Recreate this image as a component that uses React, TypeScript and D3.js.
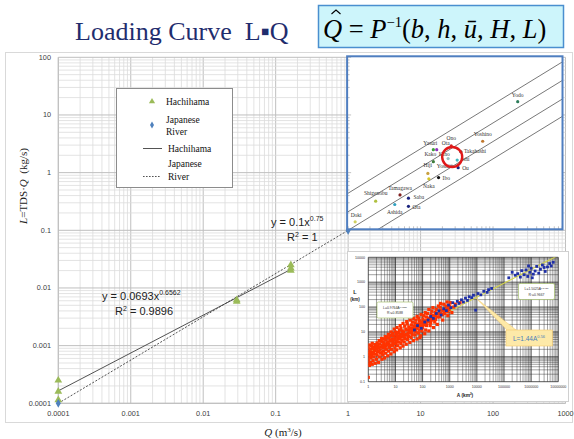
import * as d3 from 'd3';

// ---- main chart (L vs Q) ----
const xTickValues = [0.0001, 0.001, 0.01, 0.1, 1, 10, 100, 1000];
const xTickLabels = ['0.0001', '0.001', '0.01', '0.1', '1', '10', '100', '1000'];
const yTickValues = [0.0001, 0.001, 0.01, 0.1, 1, 10, 100];
const yTickLabels = ['0.0001', '0.001', '0.01', '0.1', '1', '10', '100'];

const hachihamaQ = [0.0001, 0.0001, 0.0001, 0.029, 0.029, 0.162, 0.162, 0.162];
const hachihamaL = [0.00025, 0.00016, 0.000114, 0.0062, 0.0058, 0.025, 0.022, 0.02];
const japanQ = [0.0001, 1];
const japanL = [0.0001, 0.1];

const hachihamaFit = { a: 0.0693, b: 0.6562, from: 0.0001, to: 0.162 };
const japanFit = { a: 0.1, b: 0.75, from: 0.0001, to: 1 };

// ---- upper inset: Japanese rivers ----
const riverNames = ['Yodo', 'Yoshino', 'Ono', 'Yasuri', 'Ota', 'Kako', 'Takahashi', 'Ishi', 'Kino', 'Ou', 'Yoshii', 'Ibo', 'Hiji', 'Naka', 'Tamagawa', 'Saba', 'Ashida', 'Ota', 'Shigenobu', 'Doki'];
const riverQ = [219, 72, 26.5, 15, 16.7, 15, 36, 32, 24, 33, 27, 17.7, 12.6, 13, 5.2, 6.8, 4.4, 6.8, 2.4, 1.25];
const riverL = [17, 3.5, 2.9, 2.5, 2.5, 1.55, 2.3, 1.65, 1.75, 1.22, 1.3, 0.82, 0.97, 0.78, 0.41, 0.36, 0.28, 0.26, 0.32, 0.14];
const riverColors = ['#2e7d5b', '#c0782e', '#d42020', '#3aa03a', '#9030c0', '#3d7d3d', '#3a3a3a', '#40b8c0', '#9ac0c0', '#1a237e', '#888', '#111', '#c8a040', '#d4c428', '#802020', '#1a237e', '#30a0c0', '#1a237e', '#b0c040', '#d0d060'];
const labelDx = [0, 0, 0, -3, 5, -3, 3, 4, -4, 4, -8, 4, 0, 0, 0, 5, 0, 4, 0, 1];
const labelDy = [-5, -5, -6, -5, -5, -6, 1, 1, -3, 2, 2, 2, -6, 9, -5, 1, 9, 3, -6, -5];
const labelAnchor = ['middle', 'middle', 'middle', 'middle', 'start', 'middle', 'start', 'start', 'middle', 'start', 'middle', 'start', 'middle', 'middle', 'middle', 'start', 'middle', 'start', 'middle', 'middle'];
const insetLineCoef = [0.44, 0.21, 0.1, 0.05];
const insetLineExp = 0.77;
const highlightQ = 27.3;
const highlightL = 1.87;

// ---- lower inset: L vs A ----
const aTickValues = [1, 10, 100, 1000, 10000, 100000, 1000000, 10000000];
const aTickLabels = ['1', '10', '100', '1000', '10000', '100000', '1000000', '10000000'];
const lenTickValues = [0.1, 1, 10, 100, 1000, 10000];
const lenTickLabels = ['0.1', '1', '10', '100', '1000', '10000'];
const lengthFit = { a: 1.44, b: 0.56 };

const redPoints: [number, number][] = [
  [1.0, 0.15], [1.0, 0.55], [1.0, 0.75], [1.05, 1.0], [1.0, 1.3], [1.05, 1.7], [1.0, 2.3],
  [1.2, 0.6], [1.25, 0.9], [1.2, 1.15], [1.3, 1.5], [1.25, 2.0], [1.3, 2.7],
  [1.5, 0.7], [1.6, 1.0], [1.55, 1.35], [1.7, 1.8], [1.6, 2.4], [1.75, 3.1],
  [2.0, 0.8], [2.1, 1.2], [2.2, 1.6], [2.0, 2.1], [2.3, 2.8], [2.1, 3.6],
  [2.6, 1.0], [2.8, 1.4], [2.7, 1.9], [2.9, 2.5], [2.6, 3.3], [3.0, 4.3],
  [3.4, 1.2], [3.6, 1.7], [3.5, 2.3], [3.8, 3.0], [3.4, 4.0], [3.9, 5.2],
  [4.3, 1.4], [4.6, 2.0], [4.5, 2.7], [4.8, 3.6], [4.4, 4.8], [5.0, 6.0],
  [5.6, 1.7], [6.0, 2.4], [5.8, 3.2], [6.3, 4.3], [5.9, 5.6], [6.5, 7.2],
  [7.2, 2.0], [7.8, 2.9], [8.0, 3.8], [7.5, 5.0], [8.4, 6.8], [7.9, 8.8],
  [9.5, 2.3], [10, 3.3], [10.5, 4.4], [9.8, 5.8], [10.8, 7.8], [10.2, 10],
  [12, 2.8], [13, 3.9], [12.5, 5.2], [13.5, 7.0], [12.8, 9.5], [14, 12],
  [16, 3.4], [17, 4.6], [16.5, 6.2], [18, 8.3], [17.5, 11], [16, 14],
  [21, 4.0], [22, 5.5], [23, 7.3], [20, 9.8], [24, 13], [22, 17],
  [28, 5.0], [30, 6.6], [29, 8.8], [32, 12], [31, 16], [27, 21],
  [38, 6.0], [41, 8.0], [40, 10.5], [43, 14], [39, 19], [42, 25],
  [52, 7.5], [56, 10], [54, 13], [58, 17], [53, 23], [57, 30],
  [70, 9], [75, 12], [80, 6], [78, 16], [73, 21], [77, 28], [72, 36],
  [95, 11], [100, 15], [105, 19], [98, 25], [103, 33], [110, 45],
  [130, 12], [140, 18], [135, 23], [145, 30], [138, 40], [150, 55],
  [190, 18], [200, 24], [210, 30], [195, 38], [205, 50], [220, 68],
  [280, 25], [300, 32], [310, 45], [290, 60], [320, 80],
  [420, 40], [450, 55], [470, 75], [440, 100], [460, 140],
  [650, 55], [700, 80], [720, 110],
  [950, 80], [1000, 110], [1050, 150],
  [1400, 100], [1600, 130],
  [2400, 150],
  [1.1, 0.45], [1.4, 0.5], [1.8, 0.55], [1.1, 3.0], [1.4, 3.5], [2.4, 0.6], [2.5, 4.5], [3.2, 0.8],
  [3.1, 5.5], [4.0, 0.9], [4.2, 6.5], [5.2, 1.1], [5.5, 8], [6.8, 1.3], [7.0, 10], [9, 1.6], [9, 13],
  [11, 1.9], [11.5, 15], [15, 2.3], [15, 18], [19, 2.7], [19, 22], [25, 3.2], [26, 26], [34, 3.8],
  [35, 30], [46, 4.5], [47, 35], [62, 5.2], [63, 42], [85, 7], [88, 50], [120, 8.5], [125, 60],
  [170, 11], [170, 80], [250, 15], [240, 95], [350, 20], [380, 110], [550, 30], [600, 130], [850, 45],
  [1200, 60], [800, 160],
  [1.15, 1.4], [1.35, 1.1], [1.45, 2.2], [1.9, 1.3], [1.95, 2.6], [2.4, 1.7], [2.45, 2.3], [3.2, 1.5],
  [3.3, 2.8], [3.7, 3.6], [4.1, 2.4], [4.9, 3.1], [5.3, 4.0], [6.6, 2.9], [7.0, 4.5], [8.7, 3.4],
  [9.2, 4.9], [11.5, 4.0], [12, 6.3], [14.5, 5.5], [15, 8], [19, 7], [19.5, 10], [25, 8], [26, 12],
  [34, 9.5], [35, 14], [45, 12], [48, 17], [62, 14], [65, 20], [85, 17], [88, 23], [118, 20],
  [122, 28], [165, 25], [170, 35], [240, 32], [250, 45], [350, 40], [380, 55], [550, 50], [580, 70],
  [850, 65], [900, 95],
];

const bluePoints: [number, number][] = [
  [50, 12], [65, 18], [90, 14], [120, 25], [160, 30], [200, 42], [250, 35], [320, 55], [400, 70], [480, 48],
  [600, 85], [750, 72], [900, 120], [1100, 95], [1300, 150], [1600, 115], [1900, 170], [2200, 140], [2700, 195],
  [3200, 160], [3800, 230], [4500, 185], [5200, 260], [6500, 240], [7500, 300], [9000, 75], [11000, 350],
  [14000, 310], [18000, 430], [24000, 390], [27000, 500], [35000, 560],
  [150000, 1500], [200000, 2500], [260000, 1900], [320000, 2200], [400000, 1600], [450000, 2900],
  [550000, 2000], [650000, 3100], [750000, 1700], [800000, 4500], [900000, 2500], [1000000, 3600],
  [1100000, 1500], [1200000, 2100], [1400000, 2800], [1600000, 4300], [1900000, 2300], [2200000, 3300],
  [2600000, 4900], [3000000, 3900], [3300000, 2700], [4000000, 4100], [4800000, 5600], [5500000, 4500],
  [6500000, 6300],
];

const SANS = '"Liberation Sans", Arial, sans-serif';
const SERIF = '"Liberation Serif", "Times New Roman", serif';

const isDecade = (v: number) => Math.abs(Math.log10(v) - Math.round(Math.log10(v))) < 1e-6;

export default function App() {
  // main scales
  const x = d3.scaleLog().domain([1e-4, 1e3]).range([58.3, 565.5]);
  const y = d3.scaleLog().domain([1e-4, 1e2]).range([403.3, 57.3]);
  const [x0, x1] = x.range();
  const [y0, y1] = y.range();

  const fitLine = (f: { a: number; b: number; from: number; to: number }) =>
    d3.line<number>()
      .x((q) => x(q))
      .y((q) => y(f.a * Math.pow(q, f.b)))([f.from, f.to]) || '';

  const triangle = d3.symbol(d3.symbolTriangle, 26)() || '';
  const diamond = d3.symbol(d3.symbolDiamond, 22)() || '';

  // upper inset box follows the main axes (Q 1..1000, L 0.1..100)
  const inset1 = { x: x(1) - 1, y: y(100) - 1, w: x(1000) - x(1) - 2, h: y(0.1) - y(100) };

  // lower inset scales
  const xa = d3.scaleLog().domain([1, 1e7]).range([368.3, 558.3]);
  const yl = d3.scaleLog().domain([0.1, 1e4]).range([381.7, 257.3]);
  const anchorA = 9000;
  const anchorX = xa(anchorA);
  const anchorY = yl(lengthFit.a * Math.pow(anchorA, lengthFit.b));

  return (
    <svg width={574} height={439} style={{ position: 'fixed', left: 0, top: 0, background: '#fff' }}>
      <defs>
        <clipPath id="inset1clip">
          <rect x={inset1.x} y={inset1.y} width={inset1.w} height={inset1.h} />
        </clipPath>
        <clipPath id="inset2clip">
          <rect x={xa.range()[0]} y={yl.range()[1]} width={xa.range()[1] - xa.range()[0]} height={yl.range()[0] - yl.range()[1]} />
        </clipPath>
      </defs>

      {/* title */}
      <text x={75} y={40} fontFamily={SERIF} fontSize={26} fill="#1f2d6e">
        Loading Curve{'\u00a0\u00a0'}L{'\u25aa'}Q
      </text>

      {/* formula box */}
      <rect x={318.5} y={5.5} width={245} height={42} fill="#cdf5fb" stroke="#4a8fcf" strokeWidth={1.5} />
      <path d="M331.5,14 L336,10 L340.5,14" fill="none" stroke="#000" strokeWidth={1.1} />
      <text x={323} y={38} fontFamily={SERIF} fontSize={26.5} fill="#000">
        <tspan fontStyle="italic">Q</tspan>
        <tspan> = </tspan>
        <tspan fontStyle="italic">P</tspan>
        <tspan fontSize={14.5} dy={-11}>−1</tspan>
        <tspan dy={11}>(</tspan>
        <tspan fontStyle="italic">b</tspan>
        <tspan>, </tspan>
        <tspan fontStyle="italic">h</tspan>
        <tspan>, </tspan>
        <tspan fontStyle="italic">ū</tspan>
        <tspan>, </tspan>
        <tspan fontStyle="italic">H</tspan>
        <tspan>, </tspan>
        <tspan fontStyle="italic">L</tspan>
        <tspan>)</tspan>
      </text>

      {/* chart frame */}
      <rect x={5.5} y={52.5} width={567} height={370} fill="none" stroke="#d9d9d9" strokeWidth={1} />

      {/* grid */}
      <g>
        {x.ticks().map((v, i) => (
          <line key={'gx' + i} x1={x(v)} x2={x(v)} y1={y1} y2={y0} stroke={isDecade(v) ? '#bfbfbf' : '#dcdcdc'} strokeWidth={isDecade(v) ? 1 : 0.8} />
        ))}
        {y.ticks().map((v, i) => (
          <line key={'gy' + i} x1={x0} x2={x1} y1={y(v)} y2={y(v)} stroke={isDecade(v) ? '#bfbfbf' : '#dcdcdc'} strokeWidth={isDecade(v) ? 1 : 0.8} />
        ))}
        <line x1={x0} x2={x0} y1={y1} y2={y0} stroke="#bfbfbf" />
        <line x1={x0} x2={x1} y1={y0} y2={y0} stroke="#bfbfbf" />
      </g>

      {/* tick labels */}
      {yTickValues.map((v, i) => (
        <text key={'yl' + i} x={51} y={y(v) + 2.5} textAnchor="end" fontFamily={SANS} fontSize={7.3} fill="#404040">
          {yTickLabels[i]}
        </text>
      ))}
      {xTickValues.map((v, i) => (
        <text key={'xl' + i} x={x(v)} y={416} textAnchor="middle" fontFamily={SANS} fontSize={7.3} fill="#404040">
          {xTickLabels[i]}
        </text>
      ))}

      {/* axis titles */}
      <text transform="translate(27,186) rotate(-90)" textAnchor="middle" fontFamily={SERIF} fontSize={11} fill="#222">
        <tspan fontStyle="italic">L</tspan>=TDS·<tspan fontStyle="italic">Q</tspan>{'\u00a0\u00a0'}(kg/s)
      </text>
      <text x={283} y={436} textAnchor="middle" fontFamily={SERIF} fontSize={11} fill="#222">
        <tspan fontStyle="italic">Q</tspan> (m<tspan fontSize={7} dy={-4}>3</tspan><tspan dy={4}>/s)</tspan>
      </text>

      {/* fits */}
      <path d={fitLine(hachihamaFit)} fill="none" stroke="#404040" strokeWidth={0.9} />
      <path d={fitLine(japanFit)} fill="none" stroke="#404040" strokeWidth={0.9} strokeDasharray="2,1.6" />

      {/* points */}
      {hachihamaQ.map((q, i) => (
        <path key={'h' + i} d={triangle} transform={`translate(${x(q)},${y(hachihamaL[i])})`} fill="#9bbb59" />
      ))}
      {japanQ.map((q, i) => (
        <path key={'j' + i} d={diamond} transform={`translate(${x(q)},${y(japanL[i])})`} fill="#4f81bd" />
      ))}

      {/* fit equations */}
      <text x={102} y={300} fontFamily={SANS} fontSize={11} fill="#222">
        y = 0.0693x<tspan fontSize={7} dy={-5}>0.6562</tspan>
      </text>
      <text x={115} y={315} fontFamily={SANS} fontSize={11} fill="#222">
        R<tspan fontSize={7} dy={-4}>2</tspan><tspan dy={4}> = 0.9896</tspan>
      </text>
      <text x={271} y={226} fontFamily={SANS} fontSize={11} fill="#222">
        y = 0.1x<tspan fontSize={7} dy={-5}>0.75</tspan>
      </text>
      <text x={287} y={241} fontFamily={SANS} fontSize={11} fill="#222">
        R<tspan fontSize={7} dy={-4}>2</tspan><tspan dy={4}> = 1</tspan>
      </text>

      {/* legend */}
      <g fontFamily={SERIF} fontSize={9.5} fill="#111">
        <rect x={116.5} y={88.5} width={116} height={99} fill="#fff" stroke="#8c8c8c" />
        <path d={triangle} transform="translate(152,101.5) scale(0.8)" fill="#9bbb59" />
        <text x={166} y={105}>Hachihama</text>
        <path d={diamond} transform="translate(152,125) scale(0.8)" fill="#4f81bd" />
        <text x={166} y={123}>Japanese</text>
        <text x={166} y={135}>River</text>
        <line x1={143} x2={162} y1={148.5} y2={148.5} stroke="#404040" strokeWidth={0.9} />
        <text x={168} y={151.5}>Hachihama</text>
        <line x1={143} x2={161} y1={176.5} y2={176.5} stroke="#404040" strokeWidth={0.9} strokeDasharray="1.6,1.4" />
        <text x={168} y={167}>Japanese</text>
        <text x={168} y={179.5}>River</text>
      </g>

      {/* upper inset */}
      <g>
        <rect x={inset1.x} y={inset1.y} width={inset1.w} height={inset1.h} fill="#fff" />
        <g clipPath="url(#inset1clip)">
          {y.ticks().filter((v) => v >= 0.1 && v <= 100).map((v, i) => (
            <line key={'it' + i} x1={inset1.x} x2={inset1.x + (isDecade(v) ? 4 : 2.5)} y1={y(v)} y2={y(v)} stroke="#999" strokeWidth={0.6} />
          ))}
          {x.ticks().filter((v) => v >= 1 && v <= 1000).map((v, i) => (
            <line key={'ib' + i} x1={x(v)} x2={x(v)} y1={inset1.y + inset1.h} y2={inset1.y + inset1.h - 3} stroke="#999" strokeWidth={0.6} />
          ))}
          {insetLineCoef.map((c, i) => (
            <path key={'il' + i}
              d={d3.line<number>().x((q) => x(q)).y((q) => y(c * Math.pow(q, insetLineExp)))([0.3, 3000]) || ''}
              fill="none" stroke="#555" strokeWidth={0.8} />
          ))}
          {riverQ.map((q, i) => (
            <g key={'r' + i}>
              <circle cx={x(q)} cy={y(riverL[i])} r={1.6} fill={riverColors[i]} />
              <text x={x(q) + labelDx[i]} y={y(riverL[i]) + labelDy[i]} textAnchor={labelAnchor[i] as any}
                fontFamily={SERIF} fontSize={5.5} fill="#333">{riverNames[i]}</text>
            </g>
          ))}
          <circle cx={x(highlightQ)} cy={y(highlightL)} r={10} fill="none" stroke="#e01818" strokeWidth={2.4} />
        </g>
        <rect x={inset1.x} y={inset1.y} width={inset1.w} height={inset1.h} fill="none" stroke="#4f7ec0" strokeWidth={2} />
      </g>

      {/* lower inset */}
      <g>
        <rect x={347.5} y={251.5} width={221} height={150} fill="#fff" stroke="#d0d0d0" />
        {xa.ticks().map((v, i) => (
          <line key={'ax' + i} x1={xa(v)} x2={xa(v)} y1={yl.range()[1]} y2={yl.range()[0]} stroke="#222" strokeOpacity={isDecade(v) ? 0.85 : 0.6} strokeWidth={isDecade(v) ? 0.9 : 0.7} />
        ))}
        {yl.ticks().map((v, i) => (
          <line key={'ay' + i} x1={xa.range()[0]} x2={xa.range()[1]} y1={yl(v)} y2={yl(v)} stroke="#222" strokeOpacity={isDecade(v) ? 0.85 : 0.6} strokeWidth={isDecade(v) ? 0.9 : 0.7} />
        ))}
        <g clipPath="url(#inset2clip)">
          <path d={d3.line<number>().x((a) => xa(a)).y((a) => yl(lengthFit.a * Math.pow(a, lengthFit.b)))([1, 1e7]) || ''}
            fill="none" stroke="#d4d44a" strokeWidth={1.1} />
          {redPoints.map(([a, l], i) => (
            <rect key={'rp' + i} x={xa(a) - 1.6} y={yl(l) - 1.6} width={3.2} height={3.2} fill="#ff3300" />
          ))}
          {bluePoints.map(([a, l], i) => (
            <rect key={'bp' + i} x={xa(a) - 1.4} y={yl(l) - 1.4} width={2.8} height={2.8} fill="#1f2fa6" />
          ))}
        </g>
        {aTickValues.map((v, i) => (
          <text key={'at' + i} x={xa(v)} y={388} textAnchor="middle" fontFamily={SANS} fontSize={3.6} fill="#333">{aTickLabels[i]}</text>
        ))}
        {lenTickValues.map((v, i) => (
          <text key={'lt' + i} x={365} y={yl(v) + 1.2} textAnchor="end" fontFamily={SANS} fontSize={3.6} fill="#333">{lenTickLabels[i]}</text>
        ))}
        <text x={465} y={397} textAnchor="middle" fontFamily={SANS} fontSize={4.8} fontWeight="bold" fill="#222">
          A (km<tspan fontSize={3} dy={-2}>2</tspan><tspan dy={2}>)</tspan>
        </text>
        <text x={355} y={294} textAnchor="middle" fontFamily={SANS} fontSize={5.5} fontWeight="bold" fill="#222">L</text>
        <text x={355} y={301} textAnchor="middle" fontFamily={SANS} fontSize={4.5} fontWeight="bold" fill="#222">(km)</text>

        <rect x={377} y={302} width={36} height={16} rx={1.5} fill="#fff" stroke="#9bbb59" strokeWidth={0.6} />
        <text x={395} y={308.5} textAnchor="middle" fontFamily={SANS} fontSize={3.4} fill="#333">L=0.9764A<tspan fontSize={2.4} dy={-1}>0.6338</tspan></text>
        <text x={395} y={314} textAnchor="middle" fontFamily={SANS} fontSize={3.4} fill="#333">R²=0.8588</text>
        <rect x={518.5} y={283.5} width={36} height={16} rx={1.5} fill="#fff" stroke="#9bbb59" strokeWidth={0.6} />
        <text x={536.5} y={290} textAnchor="middle" fontFamily={SANS} fontSize={3.4} fill="#333">L=1.5025A<tspan fontSize={2.4} dy={-1}>0.5438</tspan></text>
        <text x={536.5} y={295.5} textAnchor="middle" fontFamily={SANS} fontSize={3.4} fill="#333">R²=0.9667</text>

        <path d={`M${anchorX},${anchorY} L${508},${331} L${516},${330} Z`} fill="#fde9a8" stroke="#f3c96b" strokeWidth={0.5} />
        <rect x={506} y={330} width={46.5} height={16} fill="#fde9a8" stroke="#f3c96b" strokeWidth={0.6} />
        <text x={529} y={341} textAnchor="middle" fontFamily={SANS} fontSize={6.5} fill="#4a7ebb">
          L=1.44A<tspan fontSize={4} dy={-3}>0.56</tspan>
        </text>
      </g>
    </svg>
  );
}
